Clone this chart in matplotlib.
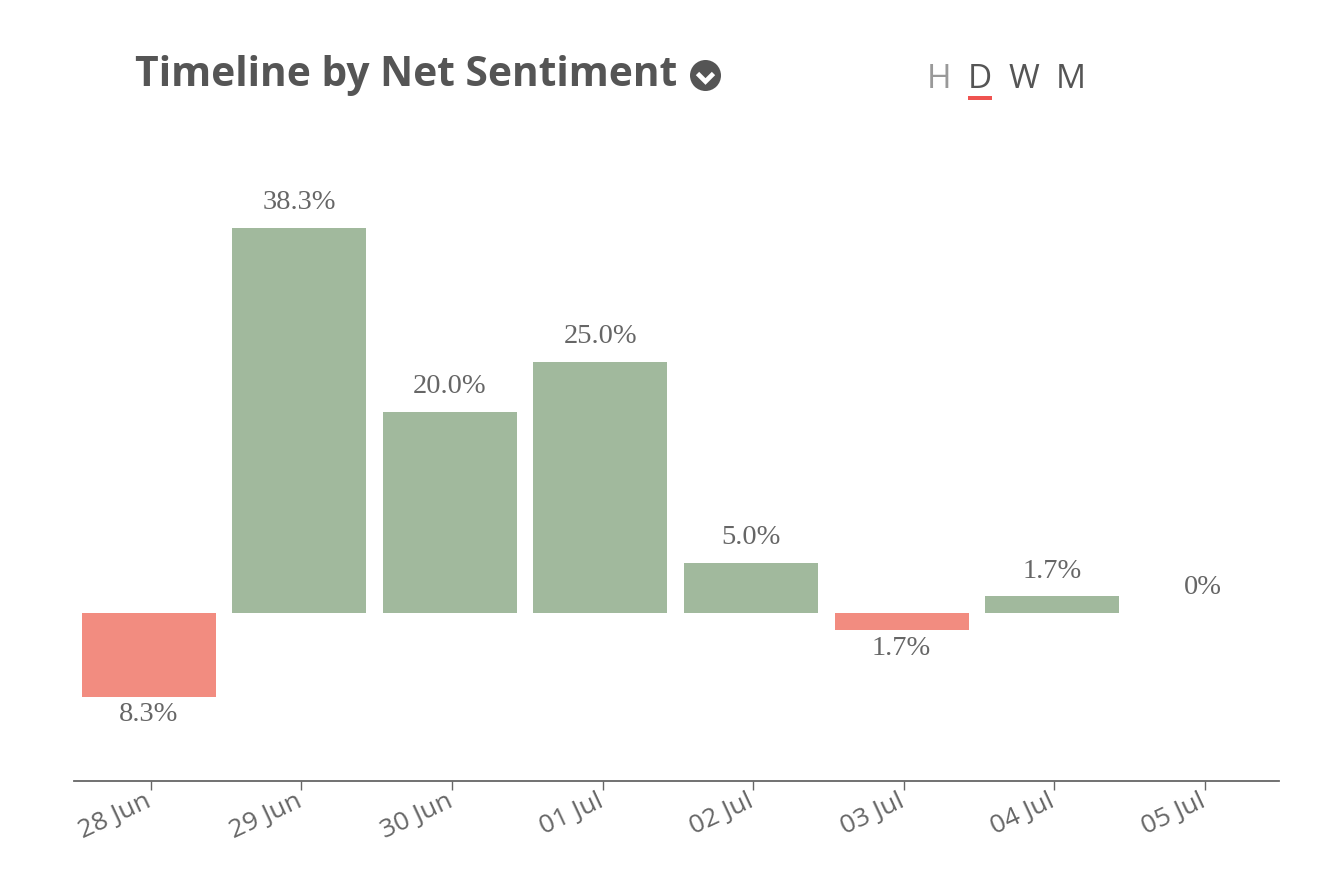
import matplotlib
matplotlib.use("Agg")
import matplotlib.pyplot as plt
from matplotlib.patches import Circle, Rectangle
from matplotlib.lines import Line2D
from matplotlib.transforms import ScaledTranslation

dates = ["28 Jun", "29 Jun", "30 Jun", "01 Jul", "02 Jul", "03 Jul", "04 Jul", "05 Jul"]
values = [-8.3, 38.3, 20.0, 25.0, 5.0, -1.7, 1.7, 0.0]
labels = ["8.3%", "38.3%", "20.0%", "25.0%", "5.0%", "1.7%", "1.7%", "0%"]
periods = ["H", "D", "W", "M"]
period_x = [939, 980, 1024, 1071]
period_colors = ["#999999", "#555555", "#555555", "#555555"]

W, H = 1342, 886
fig = plt.figure(figsize=(W / 100, H / 100), dpi=100, facecolor="white")
L, R, T, B = 74, 1279, 150, 781
ax = fig.add_axes([L / W, 1 - B / H, (R - L) / W, (B - T) / H])
px_per_x = 150.6
px_per_y = 10.06
zero_y = 613.2
ax.set_xlim((L - 150.7) / px_per_x, (R - 150.7) / px_per_x)
ax.set_ylim((zero_y - B) / px_per_y, (zero_y - T) / px_per_y)
ax.patch.set_alpha(0)

GREEN, RED = "#a1b99d", "#f28c80"
BAR_SHIFT = -0.014
for i, (v, lab) in enumerate(zip(values, labels)):
    if v != 0:
        ax.bar(i + BAR_SHIFT, v, width=134 / px_per_x, color=GREEN if v > 0 else RED, linewidth=0)
    offset_px = 25 if v > 0 else -18
    if v == 0:
        offset_px = 26
    ax.annotate(lab, (i + BAR_SHIFT, v), xytext=(0, offset_px * 0.72), textcoords="offset points",
                ha="center", va="center", fontsize=20.5, family="Liberation Serif", color="#666666")

for s in ("top", "left", "right"):
    ax.spines[s].set_visible(False)
ax.spines["bottom"].set_color("#666666")
ax.spines["bottom"].set_linewidth(1.3)
ax.set_yticks([])
ax.set_xticks(range(len(dates)))
ax.set_xticklabels(dates, rotation=25, ha="right", rotation_mode="anchor",
                   fontsize=19, family="Open Sans", color="#666666")
ax.tick_params(axis="x", length=6.5, width=1.0, color="#666666", pad=3)
shift = ScaledTranslation(-6 / 100, 5 / 100, fig.dpi_scale_trans)
for t in ax.get_xticklabels():
    t.set_transform(t.get_transform() + shift)

fig.text(135 / W, 1 - 76 / H, "Timeline by Net Sentiment", fontsize=29.35, fontweight="bold",
         family="Open Sans", color="#555555", ha="left", va="center")

cx, cy, r = 705.5, 75.5, 15.5
overlay = fig.add_axes([0, 0, 1, 1], facecolor="none")
overlay.set_xlim(0, W)
overlay.set_ylim(H, 0)
overlay.axis("off")
overlay.add_patch(Circle((cx, cy), r, color="#555555", lw=0))
overlay.add_line(Line2D([cx - 8, cx, cx + 8], [cy - 2, cy + 6, cy - 2], color="white", lw=3.4,
                        solid_capstyle="butt", solid_joinstyle="miter"))

for p, x, c in zip(periods, period_x, period_colors):
    overlay.text(x, 79.5, p, fontsize=24, family="Open Sans", color=c, ha="center", va="center")
overlay.add_patch(Rectangle((968, 96), 24, 4, color="#ef5350", lw=0))

fig.savefig("out.png", dpi=100, facecolor="white")
